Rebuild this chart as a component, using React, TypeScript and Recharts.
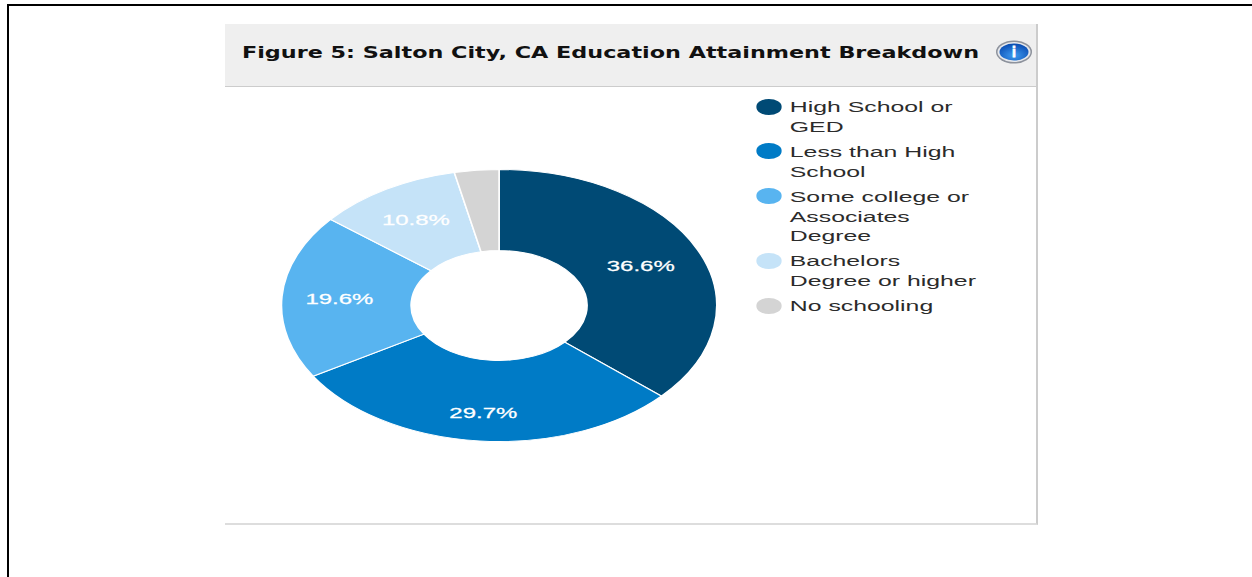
import { PieChart, Pie, Cell, Legend } from 'recharts';

const categories = [
  'High School or GED',
  'Less than High School',
  'Some college or Associates Degree',
  'Bachelors Degree or higher',
  'No schooling',
];
const shares = [36.6, 29.7, 19.6, 10.8, 3.3];
const sliceColors = ['#004a75', '#007bc6', '#58b4f0', '#c5e3f8', '#d4d4d4'];
const legendLines = [
  ['High School or', 'GED'],
  ['Less than High', 'School'],
  ['Some college or', 'Associates', 'Degree'],
  ['Bachelors', 'Degree or higher'],
  ['No schooling'],
];

const chartData = categories.map((name, i) => ({ name, value: shares[i] }));

// the whole panel is drawn wide: everything inside is stretched by this factor
const STRETCH = 1.6;
const CHART_W = 500;
const CHART_H = 440;
const FONT = '"Liberation Sans", Arial, sans-serif';
const RADIAN = Math.PI / 180;
// distance of each share label from the pie centre
const labelRadii = [97, 108, 100, 100];

const renderShareLabel = ({ cx, cy, midAngle, percent, value, index }: any) => {
  if (percent < 0.05) return null;
  const x = cx + labelRadii[index] * Math.cos(-midAngle * RADIAN);
  const y = cy + labelRadii[index] * Math.sin(-midAngle * RADIAN);
  return (
    <text x={x} y={y} fill="#fff" stroke="#fff" strokeWidth={0.25} textAnchor="middle" dominantBaseline="central" fontSize={15} fontFamily={FONT}>
      {value.toFixed(1)}%
    </text>
  );
};

const LegendList = () => (
  <div style={{ position: 'absolute', left: 332, top: 0, fontFamily: FONT, fontSize: 15.5, lineHeight: '19.7px', color: '#2b2b2b' }}>
    {legendLines.map((lines, i) => (
      <div key={lines[0]} style={{ position: 'relative', paddingLeft: 21, marginBottom: 5.5, whiteSpace: 'nowrap' }}>
        <svg width={16} height={16} style={{ position: 'absolute', left: -0.3, top: 1.5 }}>
          <circle cx={8} cy={8} r={8} fill={sliceColors[i]} />
        </svg>
        {lines.map((line) => (
          <div key={line}>{line}</div>
        ))}
      </div>
    ))}
  </div>
);

export default function App() {
  return (
    <div style={{ position: 'absolute', left: 0, top: 0, width: 1252, height: 577, background: '#fff', overflow: 'hidden' }}>
      {/* page frame: top and left rules only */}
      <div style={{ position: 'absolute', left: 7, top: 4, width: 1245, height: 2, background: '#000' }} />
      <div style={{ position: 'absolute', left: 7, top: 4, width: 2, height: 573, background: '#000' }} />

      {/* panel */}
      <div style={{ position: 'absolute', left: 225, top: 24, width: 811, height: 499, borderRight: '2px solid #ccc', borderBottom: '2px solid #ddd' }} />
      <div style={{ position: 'absolute', left: 225, top: 24, width: 811, height: 62, background: '#efefef', borderBottom: '1px solid #ccc' }} />
      <div
        style={{
          position: 'absolute',
          left: 242,
          top: 41,
          fontFamily: '"DejaVu Sans", Verdana, sans-serif',
          fontWeight: 700,
          fontSize: 15.5,
          lineHeight: '24px',
          color: '#111',
          whiteSpace: 'nowrap',
          transform: 'scaleX(1.438)',
          transformOrigin: 'left center',
        }}
      >
        Figure 5: Salton City, CA Education Attainment Breakdown
      </div>
      <svg width={40} height={28} style={{ position: 'absolute', left: 995, top: 39 }}>
        <defs>
          <radialGradient id="infoFill" cx="50%" cy="70%" r="65%">
            <stop offset="0%" stopColor="#3f9bf0" />
            <stop offset="100%" stopColor="#0b4fb5" />
          </radialGradient>
        </defs>
        <ellipse cx={19} cy={13} rx={18} ry={11.5} fill="#8d929c" />
        <ellipse cx={19} cy={13} rx={16.5} ry={10} fill="#e6e8ec" />
        <ellipse cx={19} cy={13} rx={14.5} ry={8.5} fill="url(#infoFill)" />
        <text x={19} y={18} textAnchor="middle" fontSize={14} fontWeight={700} fontFamily={FONT} fill="#fff" stroke="#fff" strokeWidth={0.8}>i</text>
      </svg>

      {/* stretched chart */}
      <div
        style={{
          position: 'absolute',
          left: 225,
          top: 85,
          width: CHART_W,
          height: CHART_H,
          transform: `scaleX(${STRETCH})`,
          transformOrigin: 'left top',
        }}
      >
        <PieChart width={CHART_W} height={CHART_H}>
          <Pie
            data={chartData}
            dataKey="value"
            nameKey="name"
            cx={166.3}
            cy={215.5}
            outerRadius={136}
            innerRadius={55}
            startAngle={90}
            endAngle={-270}
            stroke="#fff"
            strokeWidth={1}
            label={renderShareLabel}
            labelLine={false}
            isAnimationActive={false}
          >
            {chartData.map((d, i) => (
              <Cell key={d.name} fill={sliceColors[i]} />
            ))}
          </Pie>
          <Legend
            layout="vertical"
            align="right"
            verticalAlign="top"
            width={10}
            wrapperStyle={{ left: 0, right: 'auto', top: 12 }}
            content={<LegendList />}
          />
        </PieChart>
      </div>
    </div>
  );
}
